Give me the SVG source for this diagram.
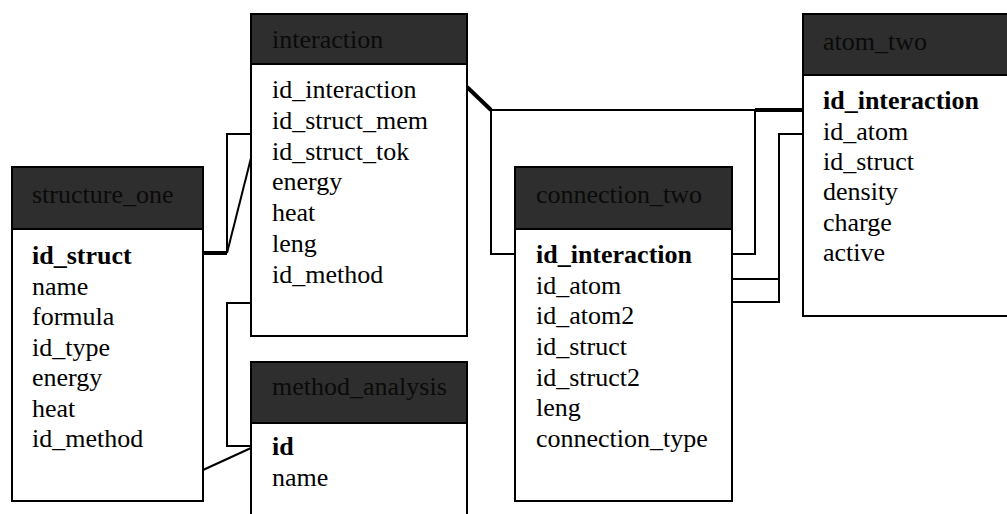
<svg xmlns="http://www.w3.org/2000/svg" width="1007" height="514" viewBox="0 0 1007 514">
  <style>
    .box { fill: #ffffff; stroke: #000000; stroke-width: 2; }
    .head { fill: #2e2e2e; stroke: #000000; stroke-width: 2; }
    .title { fill: #0a0a0a; }
    .field { fill: #000000; }
    .key { font-weight: bold; }
    .link { fill: none; stroke: #000000; stroke-width: 2; stroke-linejoin: miter; }
    .link-strong { fill: none; stroke: #000000; stroke-width: 4; }
  </style>
  <rect width="1007" height="514" fill="#ffffff"/>

  <!-- relationship lines -->
  <g id="connectors">
    <!-- structure_one.id_struct to interaction.id_struct_mem / id_struct_tok -->
    <line class="link-strong" x1="203" y1="253" x2="227" y2="253"/>
    <polyline class="link" points="227,253 227,134 251,134"/>
    <line class="link" x1="227" y1="253" x2="251" y2="158"/>
    <!-- interaction.id_method / structure_one.id_method to method_analysis.id -->
    <polyline class="link" points="251,303 227,303 227,446 251,446"/>
    <line class="link" x1="251" y1="448" x2="203" y2="470"/>
    <!-- interaction.id_interaction to connection_two and atom_two -->
    <line class="link-strong" x1="467" y1="87" x2="491" y2="110"/>
    <polyline class="link" points="491,110 491,254 515,254"/>
    <line class="link" x1="491" y1="110" x2="755" y2="110"/>
    <line class="link-strong" x1="755" y1="110" x2="803" y2="110"/>
    <polyline class="link" points="732,254 755,254 755,110"/>
    <!-- connection_two.id_atom / id_atom2 to atom_two.id_atom -->
    <polyline class="link" points="732,302 779,302 779,134 803,134"/>
    <line class="link" x1="732" y1="279" x2="779" y2="279"/>
  </g>

  <g font-family="'Liberation Serif', 'Times New Roman', Tinos, 'DejaVu Serif', serif" font-size="26">
  <g id="structure_one">
    <rect class="box" x="12" y="167" width="191" height="334"/>
    <rect class="head" x="12" y="167" width="191" height="62"/>
    <text class="title" x="32" y="203">structure_one</text>
    <text class="field key" x="32" y="264">id_struct</text>
    <text class="field" x="32" y="294.5">name</text>
    <text class="field" x="32" y="325">formula</text>
    <text class="field" x="32" y="355.5">id_type</text>
    <text class="field" x="32" y="386">energy</text>
    <text class="field" x="32" y="416.5">heat</text>
    <text class="field" x="32" y="447">id_method</text>
  </g>

  <g id="interaction">
    <rect class="box" x="251" y="14" width="216" height="322"/>
    <rect class="head" x="251" y="14" width="216" height="50"/>
    <text class="title" x="272" y="48">interaction</text>
    <text class="field" x="272" y="98">id_interaction</text>
    <text class="field" x="272" y="129">id_struct_mem</text>
    <text class="field" x="272" y="160">id_struct_tok</text>
    <text class="field" x="272" y="190">energy</text>
    <text class="field" x="272" y="221">heat</text>
    <text class="field" x="272" y="252">leng</text>
    <text class="field" x="272" y="283">id_method</text>
  </g>

  <g id="method_analysis">
    <rect class="box" x="251" y="362" width="216" height="170"/>
    <rect class="head" x="251" y="362" width="216" height="61"/>
    <text class="title" x="272" y="395">method_analysis</text>
    <text class="field key" x="272" y="455">id</text>
    <text class="field" x="272" y="486">name</text>
  </g>

  <g id="connection_two">
    <rect class="box" x="515" y="167" width="217" height="334"/>
    <rect class="head" x="515" y="167" width="217" height="62"/>
    <text class="title" x="536" y="203">connection_two</text>
    <text class="field key" x="536" y="263">id_interaction</text>
    <text class="field" x="536" y="293.5">id_atom</text>
    <text class="field" x="536" y="324">id_atom2</text>
    <text class="field" x="536" y="355">id_struct</text>
    <text class="field" x="536" y="385.5">id_struct2</text>
    <text class="field" x="536" y="416">leng</text>
    <text class="field" x="536" y="447">connection_type</text>
  </g>

  <g id="atom_two">
    <rect class="box" x="803" y="14" width="210" height="302"/>
    <rect class="head" x="803" y="14" width="210" height="61"/>
    <text class="title" x="823" y="50">atom_two</text>
    <text class="field key" x="823" y="109">id_interaction</text>
    <text class="field" x="823" y="139.5">id_atom</text>
    <text class="field" x="823" y="170">id_struct</text>
    <text class="field" x="823" y="200">density</text>
    <text class="field" x="823" y="230.5">charge</text>
    <text class="field" x="823" y="261">active</text>
  </g>
  </g>
</svg>
